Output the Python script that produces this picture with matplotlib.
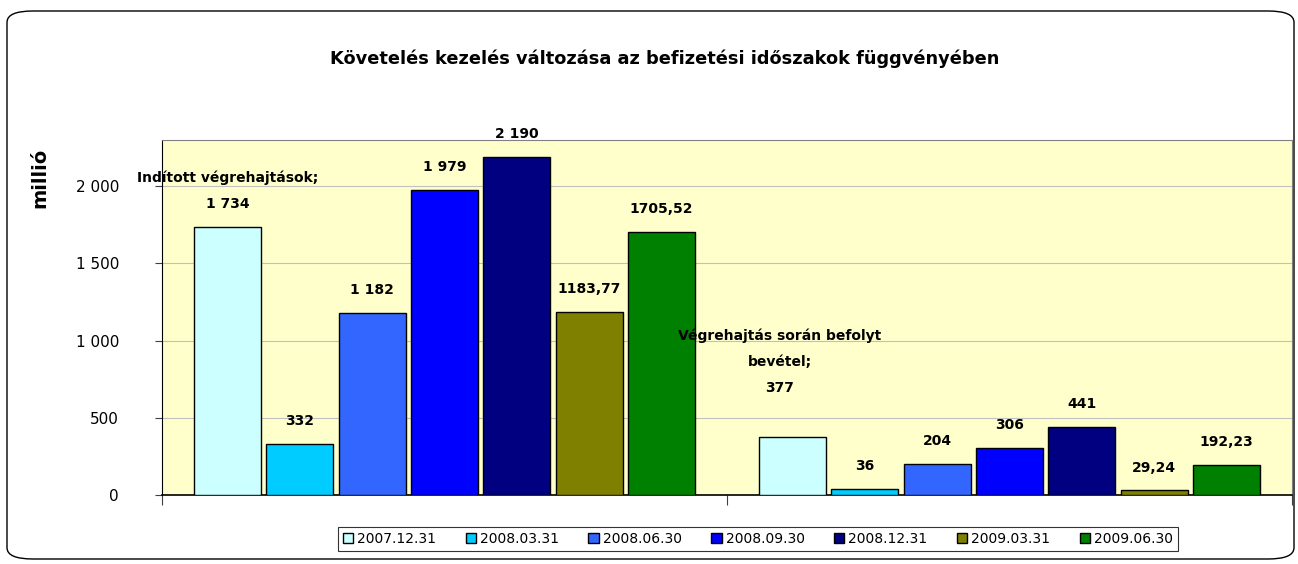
import numpy as np
import matplotlib.pyplot as plt
from matplotlib.patches import FancyBboxPatch

categories = ["Indított végrehajtások", "Végrehajtás során befolyt\nbevétel"]
periods = ["2007.12.31", "2008.03.31", "2008.06.30", "2008.09.30",
           "2008.12.31", "2009.03.31", "2009.06.30"]
inditott = [1734, 332, 1182, 1979, 2190, 1183.77, 1705.52]
befolyt = [377, 36, 204, 306, 441, 29.24, 192.23]
labels_inditott = ["1 734", "332", "1 182", "1 979", "2 190", "1183,77", "1705,52"]
labels_befolyt = ["377", "36", "204", "306", "441", "29,24", "192,23"]
yticks = [0, 500, 1000, 1500, 2000]
ytick_labels = ["0", "500", "1 000", "1 500", "2 000"]

colors = ["#CCFFFF", "#00CCFF", "#3366FF", "#0000FF", "#000080", "#808000", "#008000"]

fig = plt.figure(figsize=(12.98, 5.64), dpi=100)
ax = fig.add_axes([162/1298, 69/564, 1130/1298, 355/564])
ax.set_facecolor("#FFFFCC")

# rounded outer frame
frame = FancyBboxPatch((7/1298, 5/564), 1287/1298, 548/564,
                       boxstyle="round,pad=0,rounding_size=0.02",
                       transform=fig.transFigure, fill=False,
                       edgecolor="black", linewidth=1.0, zorder=0)
fig.patches.append(frame)

values = np.array([inditott, befolyt])
texts = [labels_inditott, labels_befolyt]
x = np.arange(len(categories))
slot = 0.128
bar_w = 0.1186

handles = []
for j, period in enumerate(periods):
    pos = x + (j - 3) * slot
    h = ax.bar(pos, values[:, j], width=bar_w, color=colors[j],
               edgecolor="black", linewidth=1.0, label=period, zorder=3)
    handles.append(h)
    for i in range(len(categories)):
        txt = texts[i][j]
        dx, dy = 0, 11.5
        if j == 0:
            txt = categories[i] + ";\n" + txt
            if i == 1:
                dx, dy = -9, 30
        ax.annotate(txt, (pos[i], values[i, j]), xytext=(dx, dy),
                    textcoords="offset points", ha="center", va="bottom",
                    fontsize=10, fontweight="bold", linespacing=2.1,
                    zorder=5, annotation_clip=False)

ax.set_xlim(-0.5, 1.5)
ax.set_ylim(0, 2300)
ax.set_yticks(yticks)
ax.set_yticklabels(ytick_labels, fontsize=11)
ax.set_xticks([-0.5, 0.5, 1.5])
ax.set_xticklabels([])
ax.tick_params(axis="y", direction="out", length=5, width=0.8, pad=26, colors="#404040")
ax.tick_params(axis="y", labelcolor="black")
ax.tick_params(axis="x", direction="out", length=7, width=0.8, color="#404040")
ax.yaxis.grid(True, color="#C0C0C0", linewidth=0.8, zorder=0)
ax.set_axisbelow(True)

ax.spines["left"].set_color("black")
ax.spines["bottom"].set_color("black")
ax.spines["bottom"].set_linewidth(1.2)
ax.spines["top"].set_color("#808080")
ax.spines["right"].set_color("#808080")

fig.text(665/1298, 505/564, "Követelés kezelés változása az befizetési időszakok függvényében",
         ha="center", va="center", fontsize=12.8, fontweight="bold")
fig.text(40/1298, 386/564, "millió", rotation=90, ha="center", va="center",
         fontsize=14, fontweight="bold")

leg = fig.legend(handles=handles, labels=periods, loc="center",
                 bbox_to_anchor=(758/1298, 25/564), ncol=7, fontsize=10,
                 frameon=True, fancybox=False, handlelength=0.75, handleheight=0.75,
                 handletextpad=0.3, columnspacing=2.1, borderpad=0.35)
leg.get_frame().set_edgecolor("black")
leg.get_frame().set_linewidth(0.8)

fig.savefig("out.png", dpi=100)
